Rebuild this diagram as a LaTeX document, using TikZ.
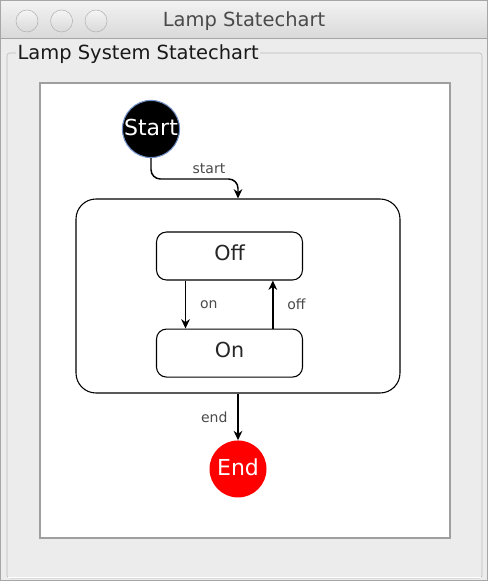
\documentclass[tikz,border=0pt]{standalone}
\usepackage{fontspec}
\setmainfont{DejaVu Sans}
\usetikzlibrary{arrows.meta, positioning, calc}
\usepackage{xcolor}
\definecolor{winbg}{HTML}{ECECEC}
\definecolor{bartop}{HTML}{F3F3F3}
\definecolor{barbot}{HTML}{D9D9D9}
\definecolor{edgegray}{HTML}{A6A6A6}
\definecolor{boxgray}{HTML}{B9B9B9}
\definecolor{startedge}{HTML}{6F8FC4}
\definecolor{endcolor}{HTML}{FF0000}
\definecolor{textgray}{HTML}{4A4A4A}

\begin{document}
\begin{tikzpicture}[x=0.75pt, y=-0.75pt,
    state/.style={rectangle, draw, rounded corners=7.5pt, line width=0.8pt,
                  minimum width=109.5pt, minimum height=36pt, inner sep=0pt,
                  text depth=5.5pt, font=\fontsize{15.5}{18}\selectfont, text=black!85},
    compstate/.style={rectangle, draw, rounded corners=15pt, line width=0.8pt,
                  minimum width=243pt, minimum height=145.5pt, inner sep=0pt},
    pseudo/.style={circle, minimum size=42.75pt, inner sep=0pt, text=white,
                  text depth=2.5pt, font=\fontsize{16.5}{18}\selectfont},
    startstate/.style={pseudo, fill=black, draw=startedge, line width=0.8pt},
    endstate/.style={pseudo, fill=endcolor},
    button/.style={circle, minimum size=16.5pt, inner sep=0pt, draw=gray!60,
                  top color=gray!8, bottom color=gray!30},
    arrow/.style={-{Stealth[length=7pt, width=6.5pt, inset=2.2pt]}, line width=1.1pt},
    tlabel/.style={font=\fontsize{10.5}{12}\selectfont, text=textgray}
]
    \useasboundingbox (0,0) rectangle (488,581);

    % Window
    \fill[winbg] (0,0) rectangle (488,581);
    \shade[top color=bartop, bottom color=barbot] (0,0) rectangle (488,38);
    \draw[edgegray] (0,38) -- (488,38);
    \draw[edgegray] (0.5,0.5) rectangle (487.5,580.5);
    \node[button] (close) at (27,21) {};
    \node[button, right=9pt of close] (minimize) {};
    \node[button, right=9pt of minimize] (zoom) {};
    \node[font=\fontsize{14.6}{16}\selectfont, text=textgray] (title) at (244,21) {Lamp Statechart};

    % Group box
    \draw[boxgray, rounded corners=2pt] (7,53) rectangle (482,578);
    \draw[white] (8,577) -- (481,577);
    \node[fill=winbg, inner sep=1pt, anchor=west, font=\fontsize{14.6}{16}\selectfont,
          text=black!90] (group) at (16,54) {Lamp System Statechart};

    % Canvas
    \draw[fill=white, draw=gray!75, line width=1pt] (40,83) rectangle (450,538);

    % States
    \node[startstate] (start) at (151,129) {Start};
    \node[compstate] (lamp) at (238,296) {};
    \node[state] (off) at (229.5,256) {Off};
    \node[state, below=36pt of off] (on) {On};
    \node[endstate, below=35pt of lamp] (end) {End};
    \coordinate (startbend) at (209,179);

    % Transitions
    \draw[arrow, rounded corners=7pt] (start.south) |- (startbend)
        node[tlabel, above] {start} -| (lamp.north);
    \draw[arrow] ([xshift=-33pt]off.south) -- node[tlabel, right, xshift=7pt] {on}
        ([xshift=-33pt]on.north);
    \draw[arrow] ([xshift=32.5pt]on.north) -- node[tlabel, right, xshift=7pt] {off}
        ([xshift=32.5pt]off.south);
    \draw[arrow] (lamp.south) -- node[tlabel, left, xshift=-4pt] {end} (end.north);

\end{tikzpicture}
\end{document}
